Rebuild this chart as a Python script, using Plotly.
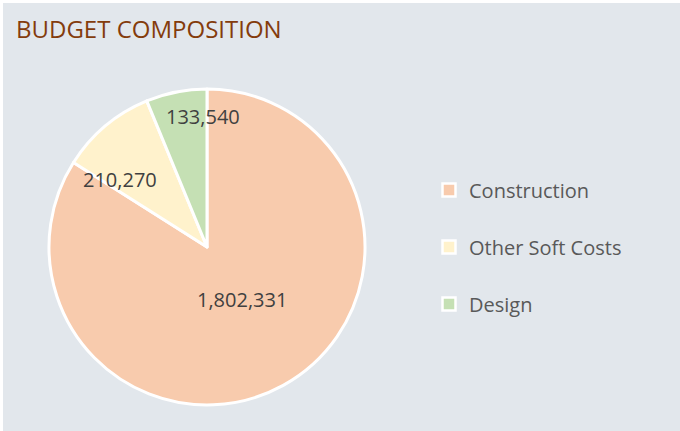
import math
import plotly.graph_objects as go

categories = ["Construction", "Other Soft Costs", "Design"]
values = [1802331, 210270, 133540]
colors = ["#F8CBAD", "#FFF2CC", "#C5E0B4"]
title_text = "BUDGET COMPOSITION"

W, H = 680, 431
BG = "#E2E7EC"
FONT = "Open Sans"

# pie placement (style)
CX, CY, R = 207, 247, 158
# label placement style: radial fraction and pixel nudge (dx right, dy down)
label_rfrac = [0.40, 0.70, 0.82]
label_nudge = [(5, -3), (-16, 17), (21, -3)]

fig = go.Figure()

fig.add_trace(go.Pie(
    labels=categories,
    values=values,
    sort=False,
    direction="clockwise",
    rotation=0,
    marker=dict(colors=colors, line=dict(color="white", width=3)),
    textinfo="none",
    showlegend=False,
    hoverinfo="label+value",
    domain=dict(x=[(CX - R) / W, (CX + R) / W], y=[1 - (CY + R) / H, 1 - (CY - R) / H]),
))

for i, (cat, col) in enumerate(zip(categories, colors)):
    fig.add_trace(go.Scatter(
        x=[None], y=[None], mode="markers", name=cat,
        marker=dict(symbol="square", size=13, color=col, line=dict(color="white", width=2.5)),
        legendgroup=f"g{i}", showlegend=True,
    ))

# data labels at slice bisectors
total = sum(values)
annotations = []
cum = 0
for i, v in enumerate(values):
    mid = (cum + v / 2) / total * 2 * math.pi
    cum += v
    r = label_rfrac[i] * R
    px = CX + r * math.sin(mid) + label_nudge[i][0]
    py = CY - r * math.cos(mid) + label_nudge[i][1]
    annotations.append(dict(
        x=px / W, y=1 - py / H, xref="paper", yref="paper",
        text=f"{v:,}", showarrow=False, xanchor="center", yanchor="middle",
        font=dict(family=FONT, size=20, color="#404040"),
    ))

fig.update_layout(
    width=W, height=H,
    margin=dict(l=0, r=0, t=0, b=0),
    paper_bgcolor=BG, plot_bgcolor=BG,
    xaxis=dict(visible=False), yaxis=dict(visible=False),
    title=dict(text=title_text, x=16 / W, xanchor="left", y=1 - 30 / H, yanchor="middle",
               font=dict(family=FONT, size=24, color="#843C0C")),
    legend=dict(x=429 / W, xanchor="left", y=1 - 247 / H, yanchor="middle",
                font=dict(family=FONT, size=20, color="#595959"),
                bgcolor="rgba(0,0,0,0)", tracegroupgap=28, itemwidth=30),
    annotations=annotations,
    shapes=[
        dict(type="rect", xref="paper", yref="paper", x0=0, x1=1, y0=1 - 3 / H, y1=1.01,
             fillcolor="white", line=dict(width=0), layer="above"),
        dict(type="rect", xref="paper", yref="paper", x0=-0.01, x1=3 / W, y0=0, y1=1,
             fillcolor="white", line=dict(width=0), layer="above"),
    ],
)

fig.write_html("out.html")
